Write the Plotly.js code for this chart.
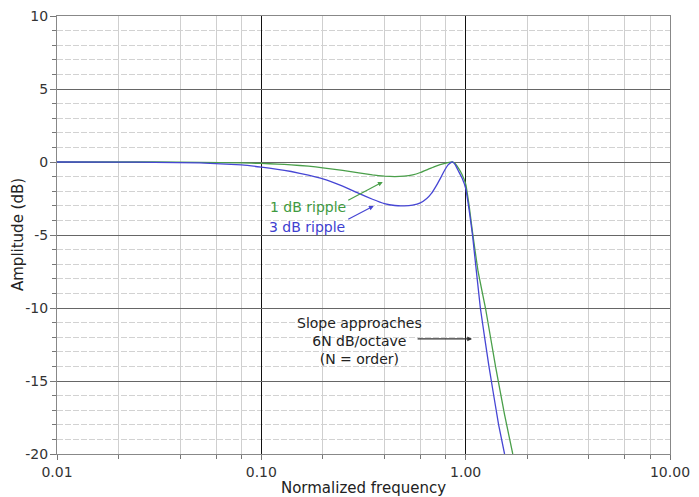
<!DOCTYPE html>
<html>
<head>
<meta charset="utf-8">
<script src="https://cdn.plot.ly/plotly-3.0.1.min.js"></script>
<style>html,body{margin:0;padding:0;background:#fff;}#chart{width:699px;height:497px;}</style>
</head>
<body>
<div id="chart"></div>
<script>
// 1 dB ripple curve
var freq1dB = [0.01, 0.02, 0.03, 0.05, 0.08, 0.1, 0.12, 0.14, 0.17, 0.2, 0.25, 0.3, 0.35, 0.4, 0.45, 0.5, 0.55, 0.6, 0.65, 0.7, 0.75, 0.8, 0.83, 0.86, 0.89, 0.92, 0.96, 1.0, 1.04, 1.08, 1.15, 1.25, 1.4, 1.55, 1.7];
var amp1dB  = [0, 0, 0, -0.02, -0.06, -0.1, -0.14, -0.2, -0.28, -0.4, -0.57, -0.75, -0.88, -0.97, -1.0, -0.97, -0.88, -0.72, -0.52, -0.33, -0.18, -0.07, -0.02, 0, -0.12, -0.4, -0.85, -1.5, -3.0, -4.8, -7.5, -10, -14, -17.3, -20];
// 3 dB ripple curve
var freq3dB = [0.01, 0.02, 0.03, 0.05, 0.08, 0.1, 0.12, 0.14, 0.17, 0.2, 0.25, 0.3, 0.35, 0.4, 0.45, 0.5, 0.55, 0.6, 0.645, 0.68, 0.72, 0.76, 0.79, 0.82, 0.85, 0.865, 0.89, 0.92, 0.96, 1.0, 1.04, 1.08, 1.18, 1.3, 1.45, 1.55];
var amp3dB  = [0, -0.01, -0.02, -0.06, -0.2, -0.35, -0.5, -0.65, -0.9, -1.15, -1.65, -2.15, -2.55, -2.85, -2.98, -3.0, -2.95, -2.8, -2.5, -2.15, -1.6, -1.0, -0.55, -0.2, -0.02, 0, -0.2, -0.6, -1.1, -1.8, -3.3, -5.0, -10, -14, -18, -20];

var xTickVals = [0.01, 0.1, 1, 10];
var xTickText = ['0.01', '0.10', '1.00', '10.00'];
var xMinorVals = [0.02, 0.04, 0.06, 0.08, 0.2, 0.4, 0.6, 0.8, 2, 4, 6, 8];
var yTickVals = [10, 5, 0, -5, -10, -15, -20];
var yTickText = ['10', '5', '0', '-5', '-10', '-15', '-20'];
var yMinorVals = [9, 8, 7, 6, 4, 3, 2, 1, -1, -2, -3, -4, -6, -7, -8, -9, -11, -12, -13, -14, -16, -17, -18, -19];

var xTitle = 'Normalized frequency';
var yTitle = 'Amplitude (dB)';
var labelText1 = '1 dB ripple';
var labelText3 = '3 dB ripple';
var slopeText = 'Slope approaches<br>6N dB/octave<br>(N = order)';

var green = '#4a9f4a';
var blue = '#4646d4';
var L = Math.log10;

var traces = [
  {x: freq1dB, y: amp1dB, mode: 'lines', line: {color: green, width: 1.3, shape: 'spline', smoothing: 0.3}, hoverinfo: 'skip'},
  {x: freq3dB, y: amp3dB, mode: 'lines', line: {color: blue, width: 1.3, shape: 'spline', smoothing: 0.3}, hoverinfo: 'skip'}
];

var font = {family: 'DejaVu Sans, sans-serif', size: 14, color: '#222'};

var layout = {
  width: 699, height: 497,
  margin: {l: 57, r: 29, t: 16, b: 43},
  paper_bgcolor: '#fff', plot_bgcolor: '#fff',
  showlegend: false,
  font: font,
  xaxis: {
    type: 'log', range: [-2, 1],
    tickmode: 'array', tickvals: xTickVals, ticktext: xTickText,
    ticks: 'outside', ticklen: 5, tickcolor: '#777', tickwidth: 1,
    showgrid: true, gridcolor: '#111', gridwidth: 1,
    showline: true, linecolor: '#888', linewidth: 1, mirror: true,
    zeroline: false,
    tickfont: {family: 'DejaVu Sans, sans-serif', size: 14, color: '#333'},
    minor: {tickmode: 'array', tickvals: xMinorVals, ticks: 'outside', ticklen: 4, tickcolor: '#777',
            showgrid: true, gridcolor: '#cfcfcf', gridwidth: 1},
    title: {text: xTitle, font: {family: 'DejaVu Sans, sans-serif', size: 15, color: '#222'}, standoff: 6}
  },
  yaxis: {
    range: [-20, 10],
    tickmode: 'array', tickvals: yTickVals, ticktext: yTickText,
    ticks: 'outside', ticklen: 6, tickcolor: '#777', tickwidth: 1,
    showgrid: true, gridcolor: '#666', gridwidth: 1,
    showline: true, linecolor: '#888', linewidth: 1, mirror: true,
    zeroline: false,
    tickfont: {family: 'DejaVu Sans, sans-serif', size: 14, color: '#333'},
    ticklabelstandoff: -1,
    minor: {tickmode: 'array', tickvals: yMinorVals, ticks: 'outside', ticklen: 4, tickcolor: '#777',
            showgrid: true, gridcolor: '#d2d2d2', gridwidth: 1, griddash: '6px,2px'}
  },
  annotations: [
    {x: -0.0636, y: 0.5, xref: 'paper', yref: 'paper', text: yTitle, textangle: -90, showarrow: false,
     xanchor: 'center', yanchor: 'middle',
     font: {family: 'DejaVu Sans, sans-serif', size: 15, color: '#222'}},
    {x: L(0.1688), y: -3.08, xref: 'x', yref: 'y', text: labelText1, showarrow: false,
     font: {family: 'DejaVu Sans, sans-serif', size: 14, color: '#3f9a3f'}},
    {x: L(0.1669), y: -4.45, xref: 'x', yref: 'y', text: labelText3, showarrow: false,
     font: {family: 'DejaVu Sans, sans-serif', size: 14, color: '#4040d0'}},
    {x: L(0.3032), y: -12.26, xref: 'x', yref: 'y', text: slopeText, showarrow: false,
     font: {family: 'DejaVu Sans, sans-serif', size: 14, color: '#222'}},
    {x: L(0.3927), y: -1.37, ax: L(0.2618), ay: -2.67, xref: 'x', yref: 'y', axref: 'x', ayref: 'y',
     text: '', showarrow: true, arrowhead: 2, arrowsize: 0.8, arrowwidth: 1.2, arrowcolor: green},
    {x: L(0.3549), y: -3.01, ax: L(0.2618), ay: -3.97, xref: 'x', yref: 'y', axref: 'x', ayref: 'y',
     text: '', showarrow: true, arrowhead: 2, arrowsize: 0.8, arrowwidth: 1.2, arrowcolor: blue},
    {x: L(1.075), y: -12.12, ax: L(0.572), ay: -12.12, xref: 'x', yref: 'y', axref: 'x', ayref: 'y',
     text: '', showarrow: true, arrowhead: 2, arrowsize: 0.8, arrowwidth: 1.2, arrowcolor: '#333'}
  ]
};

Plotly.newPlot('chart', traces, layout, {staticPlot: true, displayModeBar: false});
</script>
</body>
</html>
